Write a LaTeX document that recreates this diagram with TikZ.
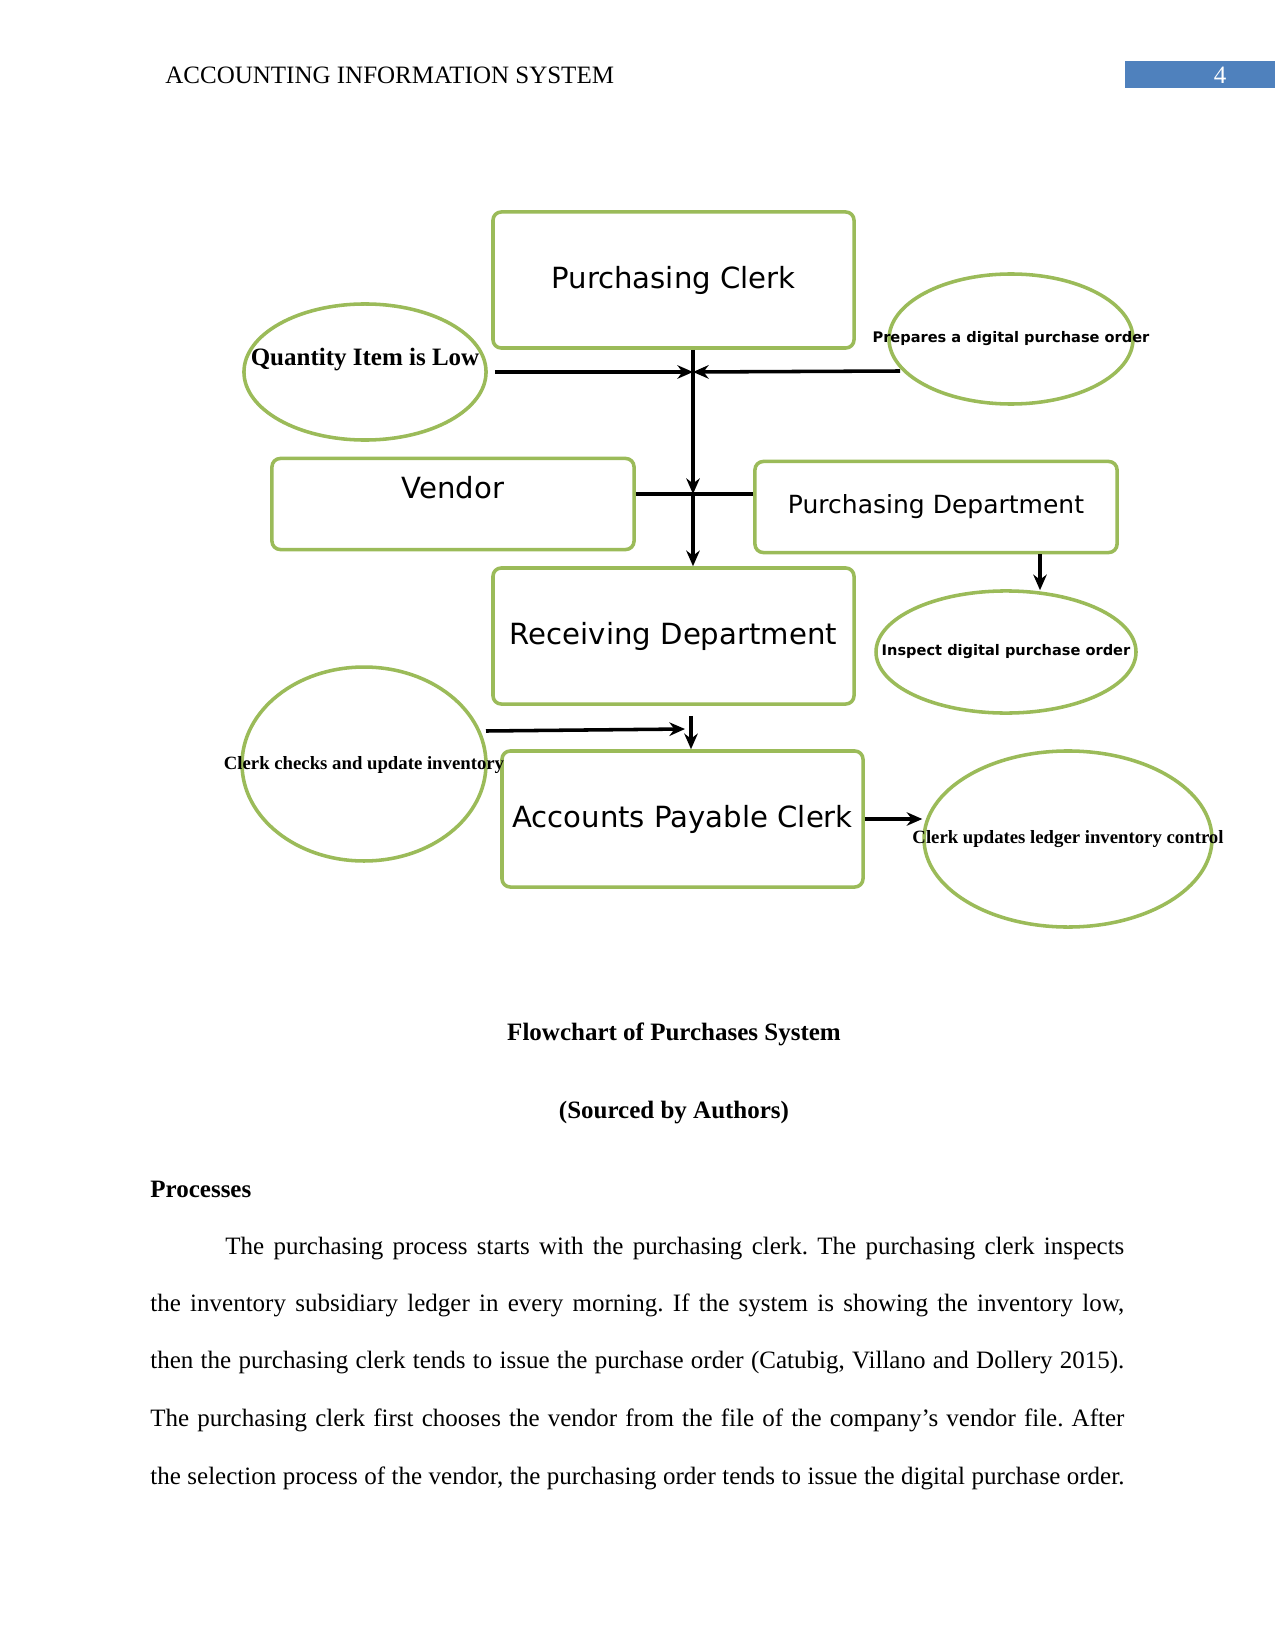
\documentclass[tikz,border=0pt]{standalone}
\usepackage{fontspec}
\setmainfont{Liberation Serif}
\newfontfamily\dvs{DejaVu Sans}
\usetikzlibrary{shapes.geometric,arrows.meta,calc}
\definecolor{boxgreen}{HTML}{9BBB59}
\definecolor{hdrblue}{HTML}{4F81BD}
\frenchspacing
\begin{document}
\begin{tikzpicture}[x=0.48pt,y=-0.48pt,
  flowbox/.style={draw=boxgreen, line width=1.7pt, rounded corners=4pt, inner sep=0pt,
    minimum width=173.3pt, font=\dvs\fontsize{14}{16}\selectfont},
  oval/.style={ellipse, draw=boxgreen, line width=1.7pt, inner sep=0pt},
  plainline/.style={line width=1.7pt},
  conn/.style={line width=1.7pt, -{Stealth[length=7.5pt,width=6.5pt]}},
  ovtext/.style={inner sep=0pt},
  bodyline/.style={anchor=base west, inner sep=0pt, font=\fontsize{12}{14}\selectfont}
]
\useasboundingbox (0,0) rectangle (1275,1650);
\fill[white] (0,0) rectangle (1275,1650);

% header
\node[anchor=base west, inner sep=0pt, font=\fontsize{12}{14}\selectfont] (hdr) at (165,84) {ACCOUNTING INFORMATION SYSTEM};
\node[fill=hdrblue, minimum width=72pt, minimum height=13pt, inner sep=0pt, anchor=north west] (pg) at (1125,61) {};
\node[text=white, inner sep=0pt, anchor=base, font=\fontsize{12}{14}\selectfont] (pgn) at (1220,84) {4};

% boxes
\node[flowbox, minimum height=65.3pt] (pc) at (673.5,280) {Purchasing Clerk};
\node[flowbox, minimum width=173.8pt, minimum height=43.7pt] (v) at (453,504) {};
\node[inner sep=0pt, font=\dvs\fontsize{14}{16}\selectfont] (vt) at (453,488) {Vendor};
\node[flowbox, minimum width=173.8pt, minimum height=43.7pt, font=\dvs\fontsize{12}{14}\selectfont] (pd) at (936,507) {Purchasing Department};
\node[flowbox, minimum height=65.3pt] (rd) at (673.5,636) {Receiving Department};
\node[flowbox, minimum height=65.3pt] (ap) at (682.5,819) {Accounts Payable Clerk};

% ellipses
\node[oval, minimum width=116.2pt, minimum height=65.3pt] (q) at (365,372) {};
\node[ovtext, font=\bfseries\fontsize{12}{14}\selectfont] (qt) at (365,360) {Quantity Item is Low};
\node[oval, minimum width=117.1pt, minimum height=62.4pt] (prep) at (1011,339) {};
\node[ovtext, font=\dvs\bfseries\fontsize{7}{8}\selectfont] (prept) at (1011,339) {Prepares a digital purchase order};
\node[oval, minimum width=124.8pt, minimum height=58.6pt] (ins) at (1006,652) {};
\node[ovtext, font=\dvs\bfseries\fontsize{7}{8}\selectfont] (inst) at (1006,652) {Inspect digital purchase order};
\node[oval, minimum width=117.1pt, minimum height=93.1pt] (cc) at (364,764) {};
\node[ovtext, font=\bfseries\fontsize{9}{10}\selectfont] (cct) at (364,765) {Clerk checks and update inventory};
\node[oval, minimum width=138.2pt, minimum height=84.5pt] (upd) at (1068,839) {};
\node[ovtext, font=\bfseries\fontsize{9}{10}\selectfont] (updt) at (1068,839) {Clerk updates ledger inventory control};

% connectors
\coordinate (j1) at (693,372);
\coordinate (j2) at (693,494);
\coordinate (pstart) at (900,371);
\coordinate (pdx) at (1040,0);
\coordinate (rx) at (691,0);
\coordinate (ccs) at (486,731);
\coordinate (cce) at (685,729);

\draw[plainline] (pc.south -| j1) -- (j1);
\draw[conn] ([xshift=3.4pt]q.east) -- (j1);
\draw[conn] (pstart) -- (j1);
\draw[conn] (j1) -- (j2);
\draw[conn] (j2) -- (rd.north -| j2);
\draw[plainline] (v.east |- j2) -- (pd.west |- j2);
\draw[conn] (pd.south -| pdx) -- ($(ins.north -| pdx)+(0,1)$);
\draw[conn] ($(rd.south -| rx)+(0,10)$) -- (ap.north -| rx);
\draw[conn] (ccs) -- (cce);
\draw[conn] (ap.east) -- (ap.east -| upd.west);

% captions
\node[anchor=base, inner sep=0pt, font=\bfseries\fontsize{12}{14}\selectfont] (cap1) at (674,1040) {Flowchart of Purchases System};
\node[anchor=base, inner sep=0pt, font=\bfseries\fontsize{12}{14}\selectfont] (cap2) at (674,1118) {(Sourced by Authors)};
\node[anchor=base west, inner sep=0pt, font=\bfseries\fontsize{12}{14}\selectfont] (proc) at (150,1197) {Processes};

% body
\node[bodyline] (l1) at (225,1254) {\makebox[431.5pt][s]{The purchasing process starts with the purchasing clerk. The purchasing clerk inspects}};
\node[bodyline] (l2) at (150,1311) {\makebox[467.5pt][s]{the inventory subsidiary ledger in every morning. If the system is showing the inventory low,}};
\node[bodyline] (l3) at (150,1368) {\makebox[467.5pt][s]{then the purchasing clerk tends to issue the purchase order (Catubig, Villano and Dollery 2015).}};
\node[bodyline] (l4) at (150,1426) {\makebox[467.5pt][s]{The purchasing clerk first chooses the vendor from the file of the company’s vendor file. After}};
\node[bodyline] (l5) at (150,1484) {\makebox[467.5pt][s]{the selection process of the vendor, the purchasing order tends to issue the digital purchase order.}};
\end{tikzpicture}
\end{document}
